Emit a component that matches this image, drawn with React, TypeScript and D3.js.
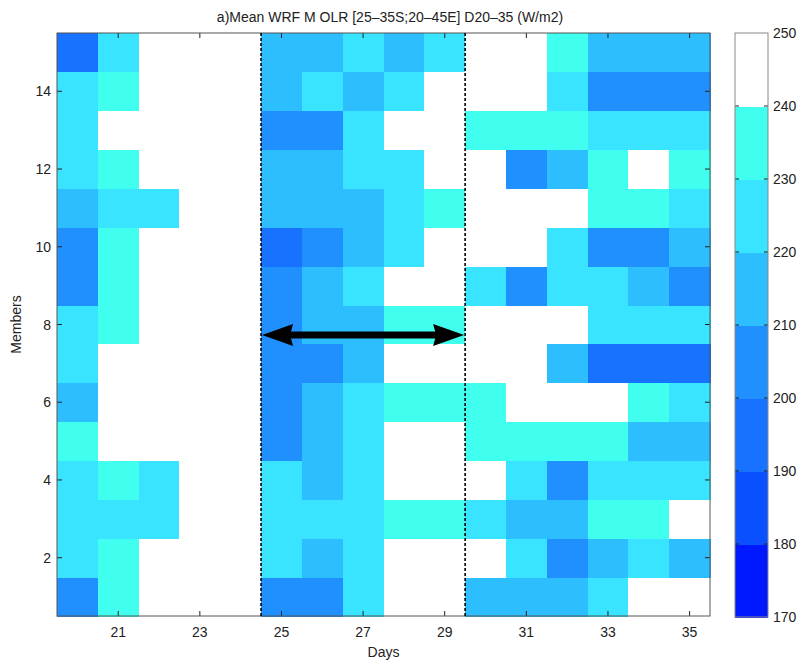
import React from "react";
import * as d3 from "d3";

const days = [20, 21, 22, 23, 24, 25, 26, 27, 28, 29, 30, 31, 32, 33, 34, 35];
const members = [1, 2, 3, 4, 5, 6, 7, 8, 9, 10, 11, 12, 13, 14, 15];
const xTicks = [21, 23, 25, 27, 29, 31, 33, 35];
const yTicks = [2, 4, 6, 8, 10, 12, 14];
const cbLevels = [170, 180, 190, 200, 210, 220, 230, 240, 250];
const levelColors = ["#0018FF", "#0A50FF", "#1672FF", "#2190FF", "#2CBEFF", "#38E4FF", "#40FFEE", "#FFFFFF"];

// OLR (W/m2), rows = members 1..15, columns = days 20..35
const olrM1 = [205, 235, 245, 245, 245, 205, 205, 225, 245, 245, 215, 215, 215, 225, 245, 245];
const olrM2 = [225, 235, 245, 245, 245, 225, 215, 225, 245, 245, 245, 225, 205, 215, 225, 215];
const olrM3 = [225, 225, 225, 245, 245, 225, 225, 225, 235, 235, 225, 215, 215, 235, 235, 245];
const olrM4 = [225, 235, 225, 245, 245, 225, 215, 225, 245, 245, 245, 225, 205, 225, 225, 225];
const olrM5 = [235, 245, 245, 245, 245, 205, 215, 225, 245, 245, 235, 235, 235, 235, 215, 215];
const olrM6 = [215, 245, 245, 245, 245, 205, 215, 225, 235, 235, 235, 245, 245, 245, 235, 225];
const olrM7 = [225, 245, 245, 245, 245, 205, 205, 215, 245, 245, 245, 245, 215, 195, 195, 195];
const olrM8 = [225, 235, 245, 245, 245, 205, 215, 215, 235, 235, 245, 245, 245, 225, 225, 225];
const olrM9 = [205, 235, 245, 245, 245, 205, 215, 225, 245, 245, 225, 205, 225, 225, 215, 205];
const olrM10 = [205, 235, 245, 245, 245, 195, 205, 215, 225, 245, 245, 245, 225, 205, 205, 215];
const olrM11 = [215, 225, 225, 245, 245, 215, 215, 215, 225, 235, 245, 245, 245, 235, 235, 225];
const olrM12 = [225, 235, 245, 245, 245, 215, 215, 225, 225, 245, 245, 205, 215, 235, 245, 235];
const olrM13 = [225, 245, 245, 245, 245, 205, 205, 225, 245, 245, 235, 235, 235, 225, 225, 225];
const olrM14 = [225, 235, 245, 245, 245, 215, 225, 215, 225, 245, 245, 245, 225, 205, 205, 205];
const olrM15 = [195, 225, 245, 245, 245, 215, 215, 225, 215, 225, 245, 245, 235, 215, 215, 215];
const olr = [olrM1, olrM2, olrM3, olrM4, olrM5, olrM6, olrM7, olrM8, olrM9, olrM10, olrM11, olrM12, olrM13, olrM14, olrM15];

const periodStart = 24.5;
const periodEnd = 29.5;
const arrowMember = 7.73;

const title = "a)Mean WRF M OLR [25\u201335S;20\u201345E] D20\u201335 (W/m2)";
const FONT = "'Liberation Sans', Arial, Helvetica, sans-serif";

export default function App() {
  const W = 800, H = 663;
  const L = 57, R = 710, T = 33, B = 616;
  const x = d3.scaleLinear().domain([19.5, 35.5]).range([L, R]);
  const y = d3.scaleLinear().domain([0.5, 15.5]).range([B, T]);
  const color = d3.scaleThreshold<number, string>().domain(cbLevels.slice(1, -1)).range(levelColors);

  const cbL = 735, cbR = 768;
  const cy = d3.scaleLinear().domain([170, 250]).range([617, 33]);

  const ay = y(arrowMember);
  const ax1 = x(periodStart) + 1, ax2 = x(periodEnd) - 1;
  const headL = 31, headH = 11;

  const axisColor = "#555";
  const tickLen = 5;

  return (
    <svg width={W} height={H} style={{ position: "absolute", left: 0, top: 0, background: "#fff" }} fontFamily={FONT}>
      <rect x={0} y={0} width={W} height={H} fill="#fff" />
      {/* cells */}
      <g shapeRendering="crispEdges">
        {olr.map((row, i) =>
          row.map((v, j) => (
            <rect
              key={`${i}-${j}`}
              x={x(days[j] - 0.5)}
              y={y(members[i] + 0.5)}
              width={x(days[j] + 0.5) - x(days[j] - 0.5) + 0.5}
              height={y(members[i] - 0.5) - y(members[i] + 0.5) + 0.5}
              fill={color(v)}
            />
          ))
        )}
      </g>
      {/* ticks */}
      <g stroke="#222" strokeWidth={1}>
        {xTicks.map((t) => (
          <g key={`xt${t}`}>
            <line x1={x(t)} x2={x(t)} y1={B} y2={B - tickLen} />
            <line x1={x(t)} x2={x(t)} y1={T} y2={T + tickLen} />
          </g>
        ))}
        {yTicks.map((t) => (
          <g key={`yt${t}`}>
            <line x1={L} x2={L + tickLen} y1={y(t)} y2={y(t)} />
            <line x1={R} x2={R - tickLen} y1={y(t)} y2={y(t)} />
          </g>
        ))}
      </g>
      <rect x={L} y={T} width={R - L} height={B - T} fill="none" stroke={axisColor} strokeWidth={1} />
      {/* tick labels */}
      <g fontSize={14} fill="#222">
        {xTicks.map((t) => (
          <text key={`xl${t}`} x={x(t)} y={B + 21} textAnchor="middle">{t}</text>
        ))}
        {yTicks.map((t) => (
          <text key={`yl${t}`} x={L - 6} y={y(t) + 5} textAnchor="end">{t}</text>
        ))}
      </g>
      {/* dashed period lines */}
      <g stroke="#000" strokeWidth={1.6} strokeDasharray="3,2">
        <line x1={x(periodStart)} x2={x(periodStart)} y1={T} y2={B} />
        <line x1={x(periodEnd)} x2={x(periodEnd)} y1={T} y2={B} />
      </g>
      {/* arrow */}
      <line x1={ax1 + headL - 4} x2={ax2 - headL + 4} y1={ay} y2={ay} stroke="#000" strokeWidth={7} />
      <path d={`M${ax1},${ay} L${ax1 + headL},${ay - headH} L${ax1 + headL - 3},${ay} L${ax1 + headL},${ay + headH} Z`} fill="#000" />
      <path d={`M${ax2},${ay} L${ax2 - headL},${ay - headH} L${ax2 - headL + 3},${ay} L${ax2 - headL},${ay + headH} Z`} fill="#000" />
      {/* labels */}
      <text x={390} y={22} textAnchor="middle" fontSize={14} fill="#222">{title}</text>
      <text x={(L + R) / 2} y={657} textAnchor="middle" fontSize={14} fill="#222">Days</text>
      <text transform={`translate(21,${(T + B) / 2}) rotate(-90)`} textAnchor="middle" fontSize={14} fill="#222">Members</text>
      {/* colorbar */}
      <g shapeRendering="crispEdges">
        {levelColors.map((c, i) => (
          <rect key={`cb${i}`} x={cbL} y={cy(cbLevels[i + 1])} width={cbR - cbL} height={cy(cbLevels[i]) - cy(cbLevels[i + 1]) + 0.5} fill={c} />
        ))}
      </g>
      <g stroke="#222" strokeWidth={1}>
        {cbLevels.slice(1, -1).map((t) => (
          <g key={`cbt${t}`}>
            <line x1={cbL} x2={cbL + 4} y1={cy(t)} y2={cy(t)} />
            <line x1={cbR} x2={cbR - 4} y1={cy(t)} y2={cy(t)} />
          </g>
        ))}
      </g>
      <rect x={cbL} y={cy(250)} width={cbR - cbL} height={cy(170) - cy(250)} fill="none" stroke="#888" strokeWidth={1} />
      <g fontSize={14} fill="#222">
        {cbLevels.map((t) => (
          <text key={`cbl${t}`} x={cbR + 5} y={cy(t) + 5}>{t}</text>
        ))}
      </g>
    </svg>
  );
}
